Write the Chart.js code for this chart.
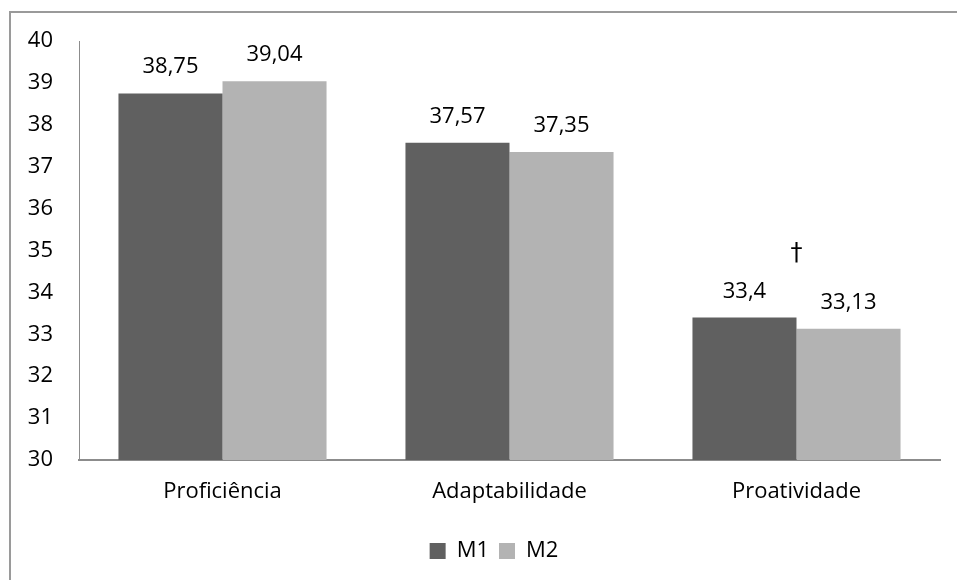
<!DOCTYPE html>
<html>
<head>
<meta charset="utf-8">
<script src="https://cdn.jsdelivr.net/npm/chart.js@4/dist/chart.umd.min.js"></script>
<style>
  html, body { margin: 0; padding: 0; background: #fff; }
  #wrap { position: relative; width: 957px; height: 580px; overflow: hidden; }
  #frame { position: absolute; left: 9px; top: 11px; width: 1000px; height: 1000px;
           border-left: 2px solid #9a9a9a; border-top: 2px solid #9a9a9a; box-sizing: border-box; }
  canvas { position: absolute; left: 0; top: 0; }
</style>
</head>
<body>
<div id="wrap">
  <div id="frame"></div>
  <canvas id="c" width="957" height="580"></canvas>
</div>
<script>
// Mean scores per dimension for the two moments
const categories = ['Proficiência', 'Adaptabilidade', 'Proatividade'];
const m1Values = [38.75, 37.57, 33.4];
const m2Values = [39.04, 37.35, 33.13];
const seriesNames = ['M1', 'M2'];
const yTicks = [30, 31, 32, 33, 34, 35, 36, 37, 38, 39, 40];
// significance mark above the Proatividade pair
const markCategory = 'Proatividade';
const markText = '†';

const FONT = "'Open Sans', 'DejaVu Sans', sans-serif";
const FS = 22;
const fmt = v => String(v).replace('.', ',');

const valueLabels = {
  id: 'valueLabels',
  afterDatasetsDraw(chart) {
    const ctx = chart.ctx;
    ctx.save();
    ctx.font = FS + 'px ' + FONT;
    ctx.fillStyle = '#000';
    ctx.textAlign = 'center';
    ctx.textBaseline = 'alphabetic';
    chart.data.datasets.forEach((ds, di) => {
      chart.getDatasetMeta(di).data.forEach((bar, i) => {
        ctx.fillText(fmt(ds.data[i]), bar.x, bar.y - 20);
      });
    });
    // dagger centred over the marked category
    const idx = categories.indexOf(markCategory);
    const xs = chart.scales.x;
    const top = chart.getDatasetMeta(0).data[idx].y;
    ctx.font = "24px 'DejaVu Sans', sans-serif";
    ctx.fillText(markText, xs.getPixelForValue(idx), top - 58);
    ctx.restore();
  }
};

// nudge the legend to sit a little right of the canvas centre
const legendShift = {
  id: 'legendShift',
  afterLayout(chart) {
    if (chart.legend) {
      chart.legend.left += 24;
      chart.legend.right += 24;
    }
  }
};

new Chart(document.getElementById('c'), {
  type: 'bar',
  data: {
    labels: categories,
    datasets: [
      { label: seriesNames[0], data: m1Values, backgroundColor: '#606060' },
      { label: seriesNames[1], data: m2Values, backgroundColor: '#b3b3b3' }
    ]
  },
  options: {
    responsive: false,
    animation: false,
    devicePixelRatio: 1,
    layout: { padding: { left: 0, top: 41, right: 17, bottom: 8 } },
    datasets: { bar: { categoryPercentage: 0.725, barPercentage: 1.0 } },
    scales: {
      x: {
        grid: { display: false, drawTicks: false },
        border: { display: true, color: '#8c8c8c', width: 2 },
        ticks: { color: '#000', font: { family: FONT, size: FS }, padding: 19 },
        afterFit(s) { s.height = 70; }
      },
      y: {
        min: 30, max: 40,
        afterBuildTicks(s) { s.ticks = yTicks.map(v => ({ value: v })); },
        grid: { display: false, drawTicks: false },
        border: { display: true, color: '#8c8c8c', width: 1 },
        ticks: { color: '#000', font: { family: FONT, size: FS }, padding: 26 },
        afterFit(s) { s.width = 79; }
      }
    },
    plugins: {
      legend: {
        position: 'bottom',
        labels: {
          color: '#000',
          font: { family: FONT, size: FS },
          boxWidth: 16, boxHeight: 16,
          padding: 10
        }
      },
      tooltip: { enabled: false }
    }
  },
  plugins: [valueLabels, legendShift]
});
</script>
</body>
</html>
